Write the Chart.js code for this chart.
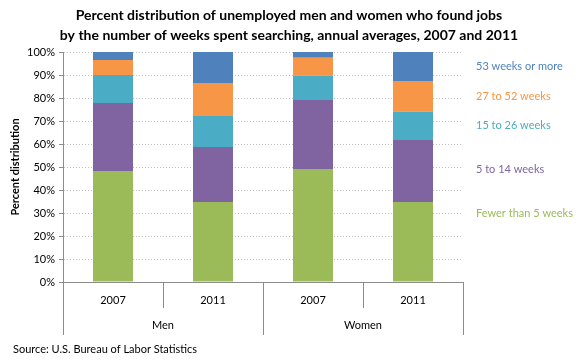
<!DOCTYPE html>
<html>
<head>
<meta charset="utf-8">
<script src="https://cdn.jsdelivr.net/npm/chart.js@4"></script>
<style>
  html, body { margin: 0; padding: 0; background: #fff; }
  #wrap { width: 580px; height: 360px; }
</style>
</head>
<body>
<div id="wrap"><canvas id="chart" width="580" height="360"></canvas></div>
<script>
const groups = ["Men", "Women"];
const years = ["2007", "2011", "2007", "2011"];
const fewerThan5 = [48.3, 34.8, 49.1, 34.8];
const weeks5to14 = [29.5, 23.9, 30.0, 26.9];
const weeks15to26 = [12.2, 13.5, 10.6, 12.4];
const weeks27to52 = [6.5, 14.3, 7.8, 13.3];
const weeks53plus = [3.5, 13.5, 2.5, 12.6];
const seriesNames = ["Fewer than 5 weeks", "5 to 14 weeks", "15 to 26 weeks", "27 to 52 weeks", "53 weeks or more"];
const seriesColors = ["#9BBB59", "#8064A2", "#4BACC6", "#F79646", "#4F81BD"];
const titleLines = [
  "Percent distribution of unemployed men and women who found jobs",
  "by the number of weeks spent searching, annual averages, 2007 and 2011"
];

const FONT = "Lato, 'Open Sans', sans-serif";
const AXIS_GRAY = "#8c8c8c";

const extras = {
  id: "extras",
  afterDraw(chart) {
    const ctx = chart.ctx;
    const area = chart.chartArea;
    const x = chart.scales.x;
    ctx.save();

    // title
    ctx.fillStyle = "#000";
    ctx.font = "bold 14px " + FONT;
    ctx.textAlign = "center";
    ctx.textBaseline = "middle";
    ctx.fillText(titleLines[0], 289, 15);
    ctx.fillText(titleLines[1], 289, 35);

    // y axis title
    ctx.save();
    ctx.translate(15, (area.top + area.bottom) / 2);
    ctx.rotate(-Math.PI / 2);
    ctx.font = "bold 11px " + FONT;
    ctx.fillText("Percent distribution", 0, 0);
    ctx.restore();

    // two level category axis
    ctx.strokeStyle = AXIS_GRAY;
    ctx.lineWidth = 1;
    const step = x.getPixelForValue(1) - x.getPixelForValue(0);
    for (let i = 0; i <= years.length; i++) {
      const px = Math.round(x.getPixelForValue(i) - step / 2) + 0.5;
      const long = i % 2 === 0;
      ctx.beginPath();
      ctx.moveTo(px, area.bottom);
      ctx.lineTo(px, area.bottom + (long ? 53 : 26));
      ctx.stroke();
    }
    ctx.font = "11px " + FONT;
    ctx.fillStyle = "#000";
    years.forEach((y, i) => {
      ctx.fillText(y, x.getPixelForValue(i), area.bottom + 18);
    });
    groups.forEach((g, i) => {
      const cx = (x.getPixelForValue(i * 2) + x.getPixelForValue(i * 2 + 1)) / 2;
      ctx.fillText(g, cx, area.bottom + 43);
    });

    // right side labels
    const labelY = [213, 169, 125, 96, 66];
    ctx.textAlign = "left";
    seriesNames.forEach((name, i) => {
      ctx.fillStyle = seriesColors[i];
      ctx.fillText(name, 476, labelY[i]);
    });

    // source
    ctx.fillStyle = "#000";
    ctx.fillText("Source: U.S. Bureau of Labor Statistics", 13, 349);
    ctx.restore();
  }
};

const allSeries = [fewerThan5, weeks5to14, weeks15to26, weeks27to52, weeks53plus];

new Chart(document.getElementById("chart"), {
  type: "bar",
  data: {
    labels: years,
    datasets: allSeries.map((values, i) => ({
      label: seriesNames[i],
      data: values,
      backgroundColor: seriesColors[i],
      borderWidth: 0,
      categoryPercentage: 1,
      barPercentage: 0.4
    }))
  },
  options: {
    responsive: false,
    animation: false,
    events: [],
    layout: { padding: { left: 0, right: 117, top: 52, bottom: 0 } },
    plugins: {
      legend: { display: false },
      tooltip: { enabled: false },
      title: { display: false }
    },
    scales: {
      x: {
        stacked: true,
        ticks: { display: false },
        grid: { display: false, drawTicks: false },
        border: { display: true, color: AXIS_GRAY },
        afterFit(scale) { scale.height = 78; }
      },
      y: {
        stacked: true,
        min: 0,
        max: 100,
        ticks: {
          stepSize: 10,
          padding: 4,
          color: "#000",
          font: { family: FONT, size: 11 },
          callback: (v) => v + "%"
        },
        grid: {
          color: "#bdbdbd",
          tickColor: AXIS_GRAY,
          tickLength: 4,
          tickBorderDash: [],
          drawTicks: true
        },
        border: { display: true, color: AXIS_GRAY, dash: [1, 2] },
        afterFit(scale) { scale.width = 63; }
      }
    }
  },
  plugins: [extras]
});
</script>
</body>
</html>
